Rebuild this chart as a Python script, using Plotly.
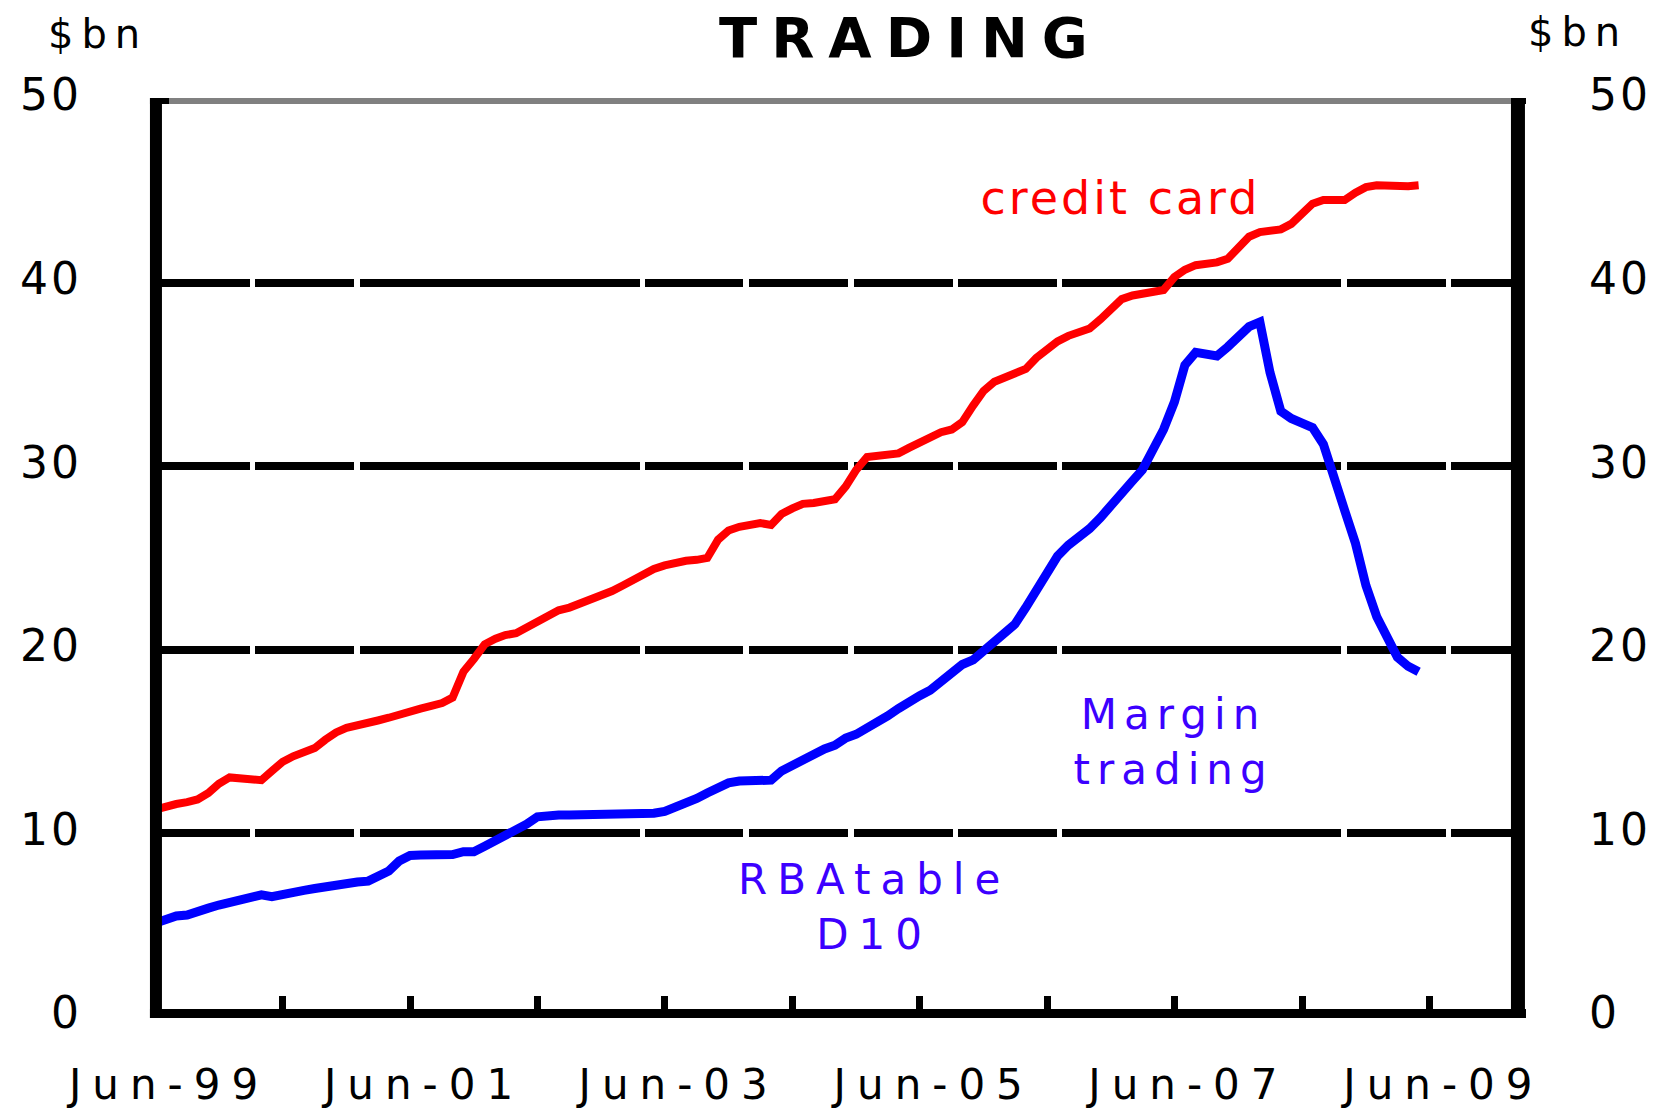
import pandas as pd
import plotly.graph_objects as go

# ---------------- data (monthly, $bn) ----------------
start_month = "1999-06-01"

credit_card = [
    11.3, 11.5, 11.6, 11.7, 11.85, 12.2, 12.7, 13.05, 13.0, 12.95, 12.9, 13.4,
    13.9, 14.2, 14.45, 14.65, 15.1, 15.5, 15.75, 15.85, 16.0, 16.15, 16.3, 16.5,
    16.65, 16.8, 16.95, 17.1, 17.4, 18.8, 19.5, 20.3, 20.6, 20.8, 20.9, 21.2,
    21.55, 21.9, 22.15, 22.3, 22.5, 22.75, 23.0, 23.2, 23.5, 23.8, 24.1, 24.4,
    24.6, 24.75, 24.85, 24.9, 25.0, 26.0, 26.5, 26.7, 26.8, 26.9, 26.8, 27.4,
    27.7, 27.95, 28.0, 28.1, 28.2, 28.9, 29.8, 30.5, 30.6, 30.6, 30.7, 31.0,
    31.3, 31.6, 31.85, 32.0, 32.4, 33.3, 34.1, 34.6, 34.85, 35.0, 35.3, 35.9,
    36.4, 36.8, 37.1, 37.3, 37.5, 38.0, 38.6, 39.1, 39.3, 39.4, 39.5, 39.6,
    40.3, 40.7, 40.95, 41.0, 41.1, 41.3, 41.9, 42.5, 42.75, 42.8, 42.9, 43.2,
    43.7, 44.3, 44.5, 44.5, 44.5, 44.9, 45.2, 45.3, 45.25, 45.25, 45.25, 45.3,
]

margin_trading = [
    5.1, 5.35, 5.5, 5.55, 5.8, 5.93, 6.1, 6.25, 6.4, 6.5, 6.65, 6.55,
    6.7, 6.8, 6.9, 7.0, 7.1, 7.25, 7.3, 7.35, 7.4, 7.6, 7.95, 8.5,
    8.8, 8.82, 8.82, 8.82, 8.85, 9.0, 9.0, 9.3, 9.6, 9.85, 10.15, 10.5,
    10.9, 11.0, 11.0, 11.0, 11.0, 11.0, 11.0, 11.0, 11.0, 11.0, 11.1, 11.1,
    11.2, 11.4, 11.6, 11.9, 12.2, 12.5, 12.75, 12.85, 12.9, 12.9, 12.9, 13.4,
    13.7, 14.0, 14.4, 14.6, 14.8, 15.2, 15.4, 15.7, 16.0, 16.4, 16.8, 17.2,
    17.5, 17.8, 18.3, 18.7, 19.2, 19.45, 19.9, 20.4, 20.9, 21.4, 22.3, 23.3,
    24.3, 25.1, 25.7, 26.1, 26.6, 27.2, 27.8, 28.5, 29.2, 29.8, 31.0, 32.0,
    33.5, 35.5, 36.2, 36.15, 36.0, 36.5, 37.0, 37.6, 37.85, 35.1, 33.0, 32.6,
    32.35, 32.1, 31.2, 29.2, 27.6, 25.8, 23.5, 21.8, 20.5, 19.6, 19.1, 18.8,
]

x_tick_dates = ["1999-06-01", "2000-06-01", "2001-06-01", "2002-06-01",
                "2003-06-01", "2004-06-01", "2005-06-01", "2006-06-01",
                "2007-06-01", "2008-06-01", "2009-06-01"]
x_tick_labels = ["Jun-99", "", "Jun-01", "", "Jun-03", "", "Jun-05", "",
                 "Jun-07", "", "Jun-09"]
y_tick_values = [0, 10, 20, 30, 40, 50]
grid_levels = [10, 20, 30, 40]

cc_dates = pd.date_range(start_month, periods=len(credit_card), freq="MS")
mt_dates = pd.date_range(start_month, periods=len(margin_trading), freq="MS")

FONT = "DejaVu Sans"
TEXT_BLUE = "#3c00ff"

fig = go.Figure()
fig.add_trace(go.Scatter(x=cc_dates, y=credit_card, mode="lines",
                         line=dict(color="#ff0000", width=8),
                         name="credit card", showlegend=False))
fig.add_trace(go.Scatter(x=mt_dates, y=margin_trading, mode="lines",
                         line=dict(color="#0000ff", width=9),
                         name="Margin trading", showlegend=False))

grid_dash = ("95px,5px,99px,6px,280px,5px,98px,6px,99px,6px,99px,5px,"
             "99px,5px,279px,6px,99px,5px,200px")

axis_font = dict(family=FONT, size=44, color="black")

fig.update_layout(
    width=1659, height=1110,
    margin=dict(l=155, r=142, t=99, b=93, autoexpand=False),
    paper_bgcolor="white", plot_bgcolor="white",
    showlegend=False,
    xaxis=dict(
        type="date", range=["1999-06-01", "2010-02-07"],
        tickmode="array", tickvals=x_tick_dates, ticktext=x_tick_labels,
        ticks="inside", ticklen=21, tickwidth=7, tickcolor="black",
        showgrid=False, showline=False, zeroline=False, automargin=False,
        tickfont=dict(family=FONT, size=42, color="black"),
        ticklabelstandoff=39, ticklabelshift=14,
    ),
    yaxis=dict(
        range=[0, 50], tickmode="array", tickvals=y_tick_values,
        ticks="", showgrid=False, showline=False, zeroline=False,
        automargin=False, tickfont=axis_font, ticklabelstandoff=72,
        ticklabelshift=-4,
    ),
    yaxis2=dict(
        range=[0, 50], overlaying="y", side="right",
        tickmode="array", tickvals=y_tick_values,
        ticks="", showgrid=False, showline=False, zeroline=False,
        automargin=False, tickfont=axis_font, ticklabelstandoff=71,
        ticklabelshift=-4,
    ),
    yaxis3=dict(
        range=[0, 50], overlaying="y", side="left",
        tickmode="array", tickvals=grid_levels, showticklabels=False,
        ticks="", showgrid=True, gridcolor="black", gridwidth=8,
        griddash=grid_dash, showline=False, zeroline=False, automargin=False,
    ),
)

# invisible traces so the overlay axes render
fig.add_trace(go.Scatter(x=[cc_dates[0]], y=[None], yaxis="y2",
                         showlegend=False, hoverinfo="skip"))
fig.add_trace(go.Scatter(x=[cc_dates[0]], y=[None], yaxis="y3",
                         showlegend=False, hoverinfo="skip"))

# frame
frame = [
    dict(x0=0.0007, x1=0.0007, y0=-0.0011, y1=1.0011, color="black", w=12),
    dict(x0=1.0007, x1=1.0007, y0=-0.0011, y1=1.0011, color="black", w=14),
    dict(x0=-0.0037, x1=1.0066, y0=0.0038, y1=0.0038, color="black", w=9),
    dict(x0=0.0051, x1=0.9956, y0=0.9978, y1=0.9978, color="#808080", w=6),
    dict(x0=-0.0037, x1=0.0103, y0=0.9978, y1=0.9978, color="black", w=6),
    dict(x0=0.9956, x1=1.0066, y0=0.9978, y1=0.9978, color="black", w=6),
]
for f in frame:
    fig.add_shape(type="line", xref="paper", yref="paper",
                  x0=f["x0"], x1=f["x1"], y0=f["y0"], y1=f["y1"],
                  line=dict(color=f["color"], width=f["w"]), layer="above")

annotations = [
    dict(text="<b>TRADING</b>", x=0.5547, y=1.0675, size=56, color="black"),
    dict(text="$bn", x=-0.0419, y=1.0708, size=40, color="black"),
    dict(text="$bn", x=1.0448, y=1.0730, size=40, color="black"),
    dict(text="credit card", x=0.7089, y=0.8922, size=46, color="#ff0000"),
    dict(text="Margin<br>trading", x=0.7475, y=0.3001, size=42, color=TEXT_BLUE),
    dict(text="RBAtable<br>D10", x=0.5280, y=0.1200, size=42, color=TEXT_BLUE),
]
for a in annotations:
    fig.add_annotation(text=a["text"], x=a["x"], y=a["y"], xref="paper",
                       yref="paper", xanchor="center", yanchor="middle",
                       showarrow=False,
                       font=dict(family=FONT, size=a["size"], color=a["color"]))

# page without default body margin; wider letter spacing to mimic the
# horizontally stretched lettering of the original
css = (
    "html,body{margin:0;padding:0}"
    ".xtick text{letter-spacing:11px}"
    ".ytick text,.y2tick text{letter-spacing:3px}"
    "g.annotation[data-index='0'] text{letter-spacing:14px}"
    "g.annotation[data-index='1'] text,g.annotation[data-index='2'] text{letter-spacing:8px}"
    "g.annotation[data-index='3'] text{letter-spacing:3px}"
    "g.annotation[data-index='4'] text{letter-spacing:7px}"
    "g.annotation[data-index='5'] text{letter-spacing:10px}"
)
post_js = (
    "var s=document.createElement('style');"
    "s.textContent=\"" + css + "\";"
    "document.head.appendChild(s);"
    "document.body.style.margin='0';"
)

fig.write_html("out.html", post_script=post_js,
               config={"displayModeBar": False})
